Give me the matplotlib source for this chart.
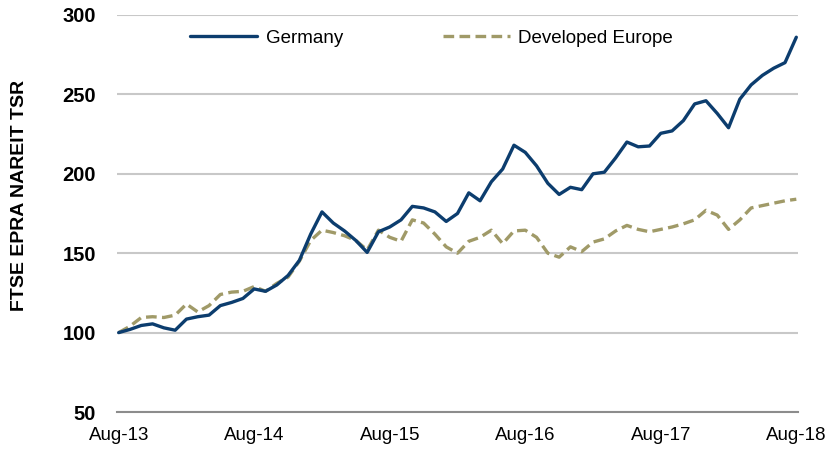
import matplotlib
matplotlib.use("Agg")
import matplotlib.pyplot as plt
import numpy as np

plt.rcParams['font.family'] = ['Liberation Sans', 'DejaVu Sans']

germany = [100, 102, 104.5, 105.5, 103, 101.5, 108.5, 110, 111, 117,
           119, 121.5, 127.5, 126, 130, 136, 145.5, 162, 176, 169,
           164, 158, 150.5, 163.5, 166.5, 171, 179.5, 178.5, 176, 170,
           175, 188, 183, 195, 203, 218, 213.5, 205, 194, 187,
           191.5, 190, 200, 201, 210, 220, 217, 217.5, 225.5, 227,
           233.5, 244, 246, 238, 229, 247, 256, 262, 266.5, 270,
           286]
dev_europe = [100, 104, 109.5, 110, 109.5, 111, 118, 113, 117, 124,
              125.5, 126, 129, 126, 131, 135, 145, 158, 164.5, 163,
              161, 158, 152, 164.5, 160, 157.5, 171, 169, 162, 154,
              150, 157.5, 160, 164.5, 156, 164, 164.5, 160, 150, 147.5,
              154, 151, 157, 159, 164, 167.5, 165, 163.5, 165, 166.5,
              168.5, 171, 177, 174, 165, 171, 178.5, 180, 181.5, 183,
              184]
tick_labels = ["Aug-13", "Aug-14", "Aug-15", "Aug-16", "Aug-17", "Aug-18"]
y_ticks = [50, 100, 150, 200, 250, 300]

fig = plt.figure(figsize=(8.26, 4.51), dpi=100)
ax = fig.add_axes([117/826, 1-412/451, 681/826, 397/451])

months = np.arange(len(germany))
ax.plot(months, germany, color="#0C3D6E", lw=2.4, solid_joinstyle="round",
        solid_capstyle="round", label="Germany", zorder=3)
ax.plot(months, dev_europe, color="#A09A68", lw=2.4, ls=(0, (3.2, 1.6)),
        dash_capstyle="butt", label="Developed Europe", zorder=2)

ax.set_xlim(-0.15, 60.15)
ax.set_ylim(50, 300)
ax.set_yticks(y_ticks)
ax.set_xticks(np.arange(0, 61, 12))
ax.set_xticklabels(tick_labels, fontsize=13.5)
ax.set_yticklabels([str(v) for v in y_ticks], fontsize=14.5, fontweight="bold")
ax.tick_params(axis="both", length=0)
ax.tick_params(axis="y", pad=15)
ax.tick_params(axis="x", pad=11)

for s in ["top", "right", "left"]:
    ax.spines[s].set_visible(False)
ax.spines["bottom"].set_color("#8C8C8C")
ax.spines["bottom"].set_linewidth(1.5)
ax.yaxis.grid(True, color="#C8C8C8", lw=1.5)
ax.set_axisbelow(True)

ax.set_ylabel("FTSE EPRA NAREIT TSR", fontsize=14, fontweight="bold")
ax.yaxis.set_label_coords(-0.13, 0.545)

leg = ax.legend(loc="center", bbox_to_anchor=(0.462, 0.942), ncol=2, frameon=False,
                fontsize=13.5, handlelength=3.6, columnspacing=5.3, handletextpad=0.45)

fig.savefig("out.png", dpi=100)
